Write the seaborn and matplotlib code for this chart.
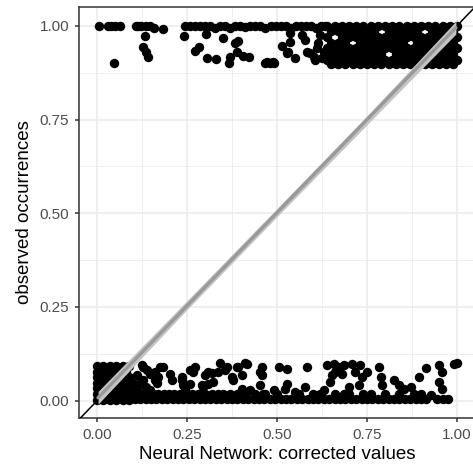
import matplotlib
matplotlib.use("Agg")
import matplotlib.pyplot as plt
import seaborn as sns
import pandas as pd

# ---------------- data ----------------
# observed = 1 group, scattered points (x, y)
top_points = [
    (0.006, 1.0), (0.030, 1.0), (0.040, 1.0), (0.050, 1.0), (0.064, 1.0),
    (0.108, 1.0), (0.114, 1.0), (0.122, 1.0), (0.135, 1.0), (0.147, 1.0),
    (0.158, 0.995), (0.183, 0.992), (0.047, 0.902), (0.128, 0.943),
    (0.135, 0.931), (0.142, 0.917), (0.133, 0.974), (0.242, 0.974),
    (0.245, 1.0), (0.258, 1.0), (0.272, 1.0), (0.286, 1.0), (0.300, 1.0),
    (0.314, 1.0), (0.328, 0.995), (0.342, 1.0), (0.356, 1.0), (0.370, 0.994),
    (0.384, 1.0), (0.398, 1.0), (0.412, 0.996), (0.426, 1.0), (0.440, 1.0),
    (0.454, 1.0), (0.468, 0.993), (0.482, 1.0), (0.496, 1.0), (0.510, 1.0),
    (0.524, 1.0), (0.538, 0.994), (0.552, 1.0), (0.566, 1.0), (0.580, 1.0),
    (0.594, 1.0), (0.608, 0.995), (0.622, 1.0), (0.632, 1.0),
    (0.303, 0.979), (0.350, 0.968), (0.383, 0.955), (0.392, 0.960),
    (0.272, 0.933), (0.283, 0.944), (0.306, 0.915), (0.331, 0.912),
    (0.369, 0.917), (0.367, 0.901), (0.389, 0.931), (0.406, 0.920),
    (0.422, 0.917), (0.467, 0.901), (0.481, 0.902), (0.472, 0.904),
    (0.489, 0.904), (0.514, 0.947), (0.536, 0.957), (0.531, 0.931),
    (0.550, 0.915), (0.569, 0.976), (0.578, 0.963), (0.592, 0.928),
    (0.606, 0.909), (0.614, 0.955), (0.625, 0.915), (0.536, 0.981),
    (0.528, 0.928), (0.492, 0.901), (0.583, 0.931), (0.603, 0.917),
    (0.611, 0.940), (0.631, 0.930), (0.620, 0.975),
]
# observed = 1 group, dense block (rows of points)
top_dense_y = [1.0, 0.985, 0.97, 0.955, 0.94, 0.925, 0.91, 0.898]
top_dense_rows_x = [
    [0.64, 0.66, 0.68, 0.70, 0.72, 0.74, 0.76, 0.78, 0.80, 0.82, 0.84, 0.86, 0.88, 0.90, 0.92, 0.94, 0.96, 0.98, 1.00],
    [0.65, 0.67, 0.69, 0.71, 0.73, 0.75, 0.77, 0.81, 0.83, 0.85, 0.87, 0.89, 0.93, 0.95, 0.97, 0.99],
    [0.64, 0.68, 0.70, 0.72, 0.74, 0.76, 0.78, 0.80, 0.82, 0.84, 0.86, 0.88, 0.90, 0.92, 0.94, 0.96, 0.98, 1.00],
    [0.65, 0.67, 0.69, 0.73, 0.75, 0.77, 0.79, 0.81, 0.83, 0.85, 0.89, 0.91, 0.93, 0.95, 0.97, 0.99],
    [0.64, 0.66, 0.68, 0.70, 0.72, 0.74, 0.76, 0.78, 0.80, 0.82, 0.84, 0.86, 0.88, 0.90, 0.92, 0.94, 0.96, 0.98, 1.00],
    [0.65, 0.67, 0.69, 0.71, 0.73, 0.75, 0.77, 0.79, 0.83, 0.85, 0.87, 0.89, 0.91, 0.93, 0.95, 0.97, 0.99],
    [0.64, 0.66, 0.68, 0.70, 0.72, 0.74, 0.76, 0.78, 0.80, 0.82, 0.84, 0.86, 0.88, 0.90, 0.92, 0.94, 0.96, 0.98, 1.00],
    [0.65, 0.67, 0.69, 0.71, 0.73, 0.75, 0.77, 0.79, 0.81, 0.83, 0.85, 0.87, 0.89, 0.91, 0.93, 0.95, 0.97, 0.99],
]
# observed = 0 group, dense block near x = 0
bottom_dense_y = [0.003, 0.018, 0.033, 0.048, 0.063, 0.078, 0.093]
bottom_dense_rows_x = [
    [0.0, 0.018, 0.036, 0.054, 0.072, 0.090],
    [0.0, 0.009, 0.027, 0.045, 0.063, 0.081, 0.099],
    [0.0, 0.018, 0.036, 0.054, 0.072, 0.090],
    [0.0, 0.009, 0.027, 0.045, 0.063, 0.081, 0.099],
    [0.0, 0.018, 0.036, 0.054, 0.072, 0.090],
    [0.0, 0.009, 0.027, 0.045, 0.063, 0.081],
    [0.0, 0.018, 0.036, 0.054, 0.072, 0.090],
]
# observed = 0 group, low rows along the whole range
bottom_row1_x = [0.105, 0.12, 0.135, 0.15, 0.165, 0.18, 0.195, 0.21, 0.225, 0.24, 0.255, 0.27,
                 0.285, 0.30, 0.315, 0.33, 0.345, 0.36, 0.375, 0.39, 0.405, 0.42, 0.435, 0.45,
                 0.465, 0.48, 0.495, 0.51, 0.525, 0.54, 0.555, 0.57, 0.585, 0.60, 0.615, 0.63,
                 0.645, 0.66, 0.675, 0.69, 0.705, 0.72, 0.735, 0.75, 0.765, 0.78, 0.795, 0.81,
                 0.825, 0.84, 0.855, 0.87, 0.885, 0.90, 0.915, 0.945, 0.96, 0.975]
bottom_row1_y = 0.004
bottom_row2_x = [0.11, 0.125, 0.14, 0.155, 0.17, 0.185, 0.20, 0.215, 0.23, 0.25, 0.265, 0.28,
                 0.30, 0.32, 0.335, 0.35, 0.37, 0.39, 0.41, 0.44, 0.46, 0.50, 0.56, 0.60, 0.62,
                 0.66, 0.70, 0.74, 0.76, 0.80, 0.84, 0.88, 0.90]
bottom_row2_y = 0.018
# observed = 0 group, scattered points (x, y)
bottom_points = [
    (0.125, 0.096), (0.139, 0.083), (0.161, 0.077), (0.183, 0.091), (0.169, 0.064),
    (0.208, 0.056), (0.236, 0.056), (0.258, 0.083), (0.272, 0.091), (0.244, 0.029),
    (0.294, 0.037), (0.308, 0.077), (0.322, 0.051), (0.342, 0.101), (0.361, 0.091),
    (0.378, 0.056), (0.389, 0.091), (0.128, 0.056), (0.111, 0.029), (0.147, 0.029),
    (0.167, 0.048), (0.139, 0.011), (0.128, 0.091), (0.147, 0.072), (0.175, 0.091),
    (0.203, 0.072), (0.161, 0.056), (0.136, 0.037), (0.110, 0.070), (0.118, 0.045),
    (0.267, 0.077), (0.236, 0.064), (0.239, 0.043), (0.258, 0.045), (0.300, 0.069),
    (0.292, 0.043), (0.319, 0.075), (0.308, 0.045), (0.336, 0.077), (0.356, 0.083),
    (0.375, 0.064), (0.392, 0.091), (0.417, 0.099), (0.403, 0.069), (0.411, 0.100),
    (0.458, 0.091), (0.458, 0.069), (0.453, 0.077), (0.403, 0.032), (0.425, 0.029),
    (0.453, 0.043), (0.467, 0.019), (0.506, 0.091), (0.528, 0.085), (0.583, 0.091),
    (0.528, 0.045), (0.522, 0.032), (0.492, 0.029), (0.550, 0.024), (0.578, 0.037),
    (0.631, 0.029), (0.647, 0.051), (0.653, 0.069), (0.639, 0.096), (0.658, 0.099),
    (0.672, 0.091), (0.686, 0.096), (0.708, 0.099), (0.731, 0.096), (0.661, 0.077),
    (0.681, 0.072), (0.717, 0.077), (0.736, 0.064), (0.700, 0.037), (0.728, 0.043),
    (0.686, 0.019), (0.750, 0.077), (0.783, 0.091), (0.789, 0.064), (0.792, 0.043),
    (0.825, 0.056), (0.839, 0.043), (0.853, 0.032), (0.872, 0.037), (0.894, 0.064),
    (0.914, 0.088), (0.950, 0.096), (0.958, 0.077), (0.992, 0.097), (0.950, 0.051),
    (0.958, 0.032), (0.928, 0.016), (1.000, 0.100),
]
# linear smooth (line and confidence ribbon)
smooth_x = [0.003, 0.997]
smooth_y = [0.008, 0.995]
ribbon_x = [0.003, 0.25, 0.5, 0.75, 0.997]
ribbon_mid = [0.008, 0.255, 0.502, 0.748, 0.995]
ribbon_half = [0.017, 0.012, 0.011, 0.012, 0.017]

x_ticks = [0.0, 0.25, 0.5, 0.75, 1.0]
y_ticks = [0.0, 0.25, 0.5, 0.75, 1.0]
tick_labels = ["0.00", "0.25", "0.50", "0.75", "1.00"]
minor_ticks = [0.125, 0.375, 0.625, 0.875]

# ---------------- assemble ----------------
xs, ys = [], []
for px, py in top_points + bottom_points:
    xs.append(px); ys.append(py)
for yv, row in zip(top_dense_y, top_dense_rows_x):
    xs += row; ys += [yv] * len(row)
for yv, row in zip(bottom_dense_y, bottom_dense_rows_x):
    xs += row; ys += [yv] * len(row)
xs += bottom_row1_x; ys += [bottom_row1_y] * len(bottom_row1_x)
xs += bottom_row2_x; ys += [bottom_row2_y] * len(bottom_row2_x)
df = pd.DataFrame({"x": xs, "y": ys})

sns.set_theme(style="white")
plt.rcParams['font.family'] = ['Liberation Sans', 'DejaVu Sans']

fig = plt.figure(figsize=(4.73, 4.70), dpi=100)
ax = fig.add_axes([79 / 473, 52 / 470, 396 / 473, 411 / 470])
ax.set_facecolor("white")

sns.scatterplot(data=df, x="x", y="y", color="black", s=46, linewidth=0,
                ax=ax, zorder=3, legend=False)
ax.axline((0, 0), (1, 1), color="black", lw=1.1, zorder=4)
lower = [m - h for m, h in zip(ribbon_mid, ribbon_half)]
upper = [m + h for m, h in zip(ribbon_mid, ribbon_half)]
ax.fill_between(ribbon_x, lower, upper, color="#C4C4C4", lw=0, zorder=5)
sns.lineplot(x=smooth_x, y=smooth_y, color="#999999", lw=2.4, ax=ax, zorder=6)

ax.set_xlim(-0.05, 1.05)
ax.set_ylim(-0.046, 1.050)
ax.set_xticks(x_ticks)
ax.set_xticklabels(tick_labels)
ax.set_yticks(y_ticks)
ax.set_yticklabels(tick_labels)
ax.set_xticks(minor_ticks, minor=True)
ax.set_yticks(minor_ticks, minor=True)
ax.grid(which="major", color="#EBEBEB", lw=1.1, zorder=0)
ax.grid(which="minor", color="#EBEBEB", lw=0.55, zorder=0)
ax.set_axisbelow(True)
for s in ax.spines.values():
    s.set_color("#333333")
    s.set_linewidth(1.1)
ax.spines["right"].set_visible(False)
ax.tick_params(which="major", length=3, width=1.1, color="#333333",
               labelcolor="#4D4D4D", labelsize=11, pad=4, bottom=True, left=True)
ax.tick_params(which="minor", length=0)
ax.set_xlabel("Neural Network: corrected values", fontsize=13.5, color="black", labelpad=3)
ax.set_ylabel("observed occurrences", fontsize=13.5, color="black", labelpad=5)

fig.savefig("out.png", dpi=100)
